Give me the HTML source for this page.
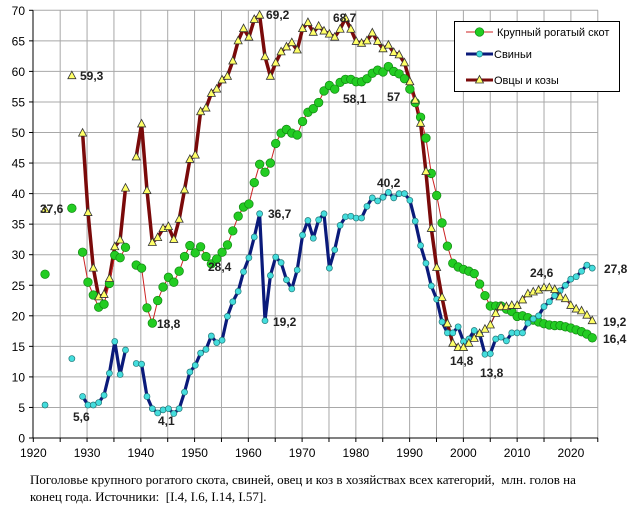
<!DOCTYPE html>
<html><head><meta charset="utf-8"><style>
html,body{margin:0;padding:0;background:#fff;width:633px;height:508px;overflow:hidden}
svg{display:block;font-family:"Liberation Sans",Arial,sans-serif}
.cap{position:absolute;left:30px;top:471px;font-family:"Liberation Serif","Times New Roman",serif;font-size:13px;line-height:17px;color:#000;width:600px}
</style></head><body>
<svg id="c" width="633" height="508" xmlns="http://www.w3.org/2000/svg"></svg>
<div class="cap">Поголовье крупного рогатого скота, свиней, овец и коз в хозяйствах всех категорий,&nbsp; млн. голов на<br>конец года. Источники:&nbsp; [I.4, I.6, I.14, I.57].</div>
<script>
var NS="http://www.w3.org/2000/svg",svg=document.getElementById('c');
function el(t,a,txt){var e=document.createElementNS(NS,t);for(var k in a)e.setAttribute(k,a[k]);if(txt!=null)e.textContent=txt;svg.appendChild(e);return e;}
function X(y){return 34.3+5.365*(y-1920);}
function Y(v){return 438-6.11*v;}
// grid
for(var v=5;v<=70;v+=5)el('line',{x1:33,x2:598,y1:Y(v),y2:Y(v),stroke:'#a8a8a8','stroke-width':1});
for(var i=1;i<=21;i++){var gx=33.3+i*26.88;el('line',{x1:gx,x2:gx,y1:Y(70),y2:438,stroke:'#a8a8a8','stroke-width':1});}
el('line',{x1:33,x2:33,y1:Y(70),y2:438,stroke:'#000'});
el('line',{x1:33,x2:598,y1:438,y2:438,stroke:'#000'});
for(var i=0;i<=21;i++){var gx=33.3+i*26.88;el('line',{x1:gx,x2:gx,y1:438,y2:442,stroke:'#000'});}
for(var v=0;v<=70;v+=5){el('line',{x1:29,x2:33,y1:Y(v),y2:Y(v),stroke:'#000'});el('text',{x:25,y:Y(v)+4.5,'text-anchor':'end','font-size':12},v);}
for(var y=1920;y<=2020;y+=10)el('text',{x:33.3+(y-1920)*5.376,y:457,'text-anchor':'middle','font-size':12},y);
// data
var cattle={1922:26.8,1927:37.6};
var cA=[1929,30.4,25.5,23.4,21.4,21.9,25.3,29.9,29.5,31.2];
var cB=[1939,28.3,27.8,21.3,18.8,22.5,24.7,26.3,25.5,27.3,29.7,31.5,30.3,31.3,29.7,28.5,29.3,30.4,31.6,33.9,36.3,37.8,38.3,41.8,44.8,43.5,45.0,48.2,49.9,50.5,49.9,49.6,51.8,53.3,53.9,54.9,56.8,57.7,57.1,58.2,58.7,58.7,58.3,58.3,58.8,59.7,60.2,59.9,60.8,60.0,59.6,58.8,57.1,54.9,52.5,49.1,43.3,39.7,35.2,31.4,28.6,28.0,27.6,27.3,26.9,25.2,23.3,21.6,21.6,21.6,21.1,20.7,19.9,20.0,19.7,19.3,19.0,18.7,18.5,18.4,18.4,18.2,18.0,17.7,17.4,17.0,16.4];
var pA=[1929,6.8,5.4,5.4,5.8,7.0,10.6,15.8,10.4,14.4];
var pB=[1939,12.2,12.1,6.8,4.8,4.1,4.6,4.8,4.0,4.8,7.5,10.8,11.9,13.9,14.5,16.7,15.6,16.0,19.9,22.3,24.0,27.2,29.5,32.9,36.7,19.2,26.6,29.6,28.7,25.9,24.4,27.5,33.2,35.6,32.7,35.7,36.7,27.8,30.8,34.8,36.2,36.3,36.0,36.0,37.9,39.3,38.8,39.4,40.2,39.3,40.0,40.0,38.9,35.5,31.5,28.6,24.9,22.7,19.0,17.2,17.2,18.2,15.8,16.2,17.6,17.0,13.7,13.8,16.2,16.5,15.9,17.2,17.2,17.2,18.8,19.5,20.0,21.5,22.3,23.3,24.1,25.0,26.0,26.4,27.3,28.3,27.8];
var sA=[1929,49.9,36.9,27.8,23.1,23.5,26.1,31.3,32.4,40.9];
var sB=[1939,46.0,51.4,40.5,32.0,32.8,34.3,34.6,32.5,35.8,40.6,45.6,46.3,53.4,54.0,56.4,57.1,58.6,59.2,61.7,65.0,67.0,65.6,68.5,69.2,62.4,59.2,61.4,63.2,64.0,64.7,63.5,67.0,68.0,66.4,67.4,66.6,66.1,65.6,66.9,68.7,66.9,64.9,64.6,65.0,66.3,64.9,63.7,64.3,63.1,62.7,61.4,58.3,55.3,51.5,43.6,34.3,27.9,23.0,18.7,15.5,14.8,14.8,15.5,16.3,17.1,17.8,18.5,20.4,21.5,21.5,21.7,21.7,22.6,23.6,23.9,24.2,24.6,24.6,24.3,23.1,22.8,21.7,21.1,20.8,20.1,19.2];
function pts(a,from,to){var s=[];for(var i=1;i<a.length;i++){var yr=a[0]+i-1;if((from==null||yr>=from)&&(to==null||yr<=to))s.push(X(yr).toFixed(1)+','+Y(a[i]).toFixed(1));}return s.join(' ');}
function line(a,col,w,f,t){el('polyline',{points:pts(a,f,t),fill:'none',stroke:col,'stroke-width':w,'stroke-linejoin':'round'});}
function each(a,fn){for(var i=1;i<a.length;i++)fn(X(a[0]+i-1),Y(a[i]));}
function tri(x,y){el('polygon',{points:(x)+','+(y-4.5)+' '+(x-4)+','+(y+3)+' '+(x+4)+','+(y+3),fill:'#ffff66',stroke:'#333','stroke-width':0.8});}
function gdot(x,y){el('circle',{cx:x,cy:y,r:4.3,fill:'#22cc22',stroke:'#118811','stroke-width':0.7});}
function pdot(x,y){el('circle',{cx:x,cy:y,r:3,fill:'#44dddd',stroke:'#227777','stroke-width':0.7});}
// sheep lines
line(sA,'#7a0a0a',3.5);line(sB,'#7a0a0a',3.5,1939,1999);line(sB,'#8b1a1a',1.2,1999,2024);
// cattle thin
line(cA,'#cc2222',1);line(cB,'#cc2222',1);
// pigs
line(pA,'#0a1a7a',3.2);line(pB,'#0a1a7a',3.2);
each(cA,gdot);each(cB,gdot);gdot(X(1922),Y(26.8));gdot(X(1927),Y(37.6));
each(pA,pdot);each(pB,pdot);pdot(X(1922),Y(5.4));pdot(X(1927),Y(13.0));
each(sA,tri);each(sB,tri);tri(X(1922),Y(37.4));tri(X(1927),Y(59.3));
// labels
var L=[["69,2",266,19],["59,3",80,80],["37,6",40,213],["36,7",268,218],["68,7",333,22],["58,1",343,103],["57",387,101],["40,2",377,187],["28,4",208,271],["18,8",157,328],["19,2",273,326],["5,6",73,421],["4,1",158,425],["14,8",450,365],["13,8",480,377],["24,6",530,277],["27,8",604,273],["19,2",603,326],["16,4",603,343]];
L.forEach(function(l){el('text',{x:l[1],y:l[2],'font-size':12,'font-weight':'bold',fill:'#222'},l[0]);});
// legend
el('rect',{x:454.5,y:21.5,width:165,height:70,fill:'#fff',stroke:'#000','stroke-width':1});
el('line',{x1:466,x2:493,y1:32,y2:32,stroke:'#cc2222','stroke-width':1});gdot(479.5,32);
el('line',{x1:466,x2:493,y1:54,y2:54,stroke:'#0a1a7a','stroke-width':3});pdot(479.5,54);
el('line',{x1:466,x2:493,y1:80,y2:80,stroke:'#7a0a0a','stroke-width':3});tri(479.5,80);
el('text',{x:497,y:36,'font-size':11},'Крупный рогатый скот');
el('text',{x:494,y:58,'font-size':11},'Свиньи');
el('text',{x:494,y:84,'font-size':11},'Овцы и козы');
</script>
</body></html>
